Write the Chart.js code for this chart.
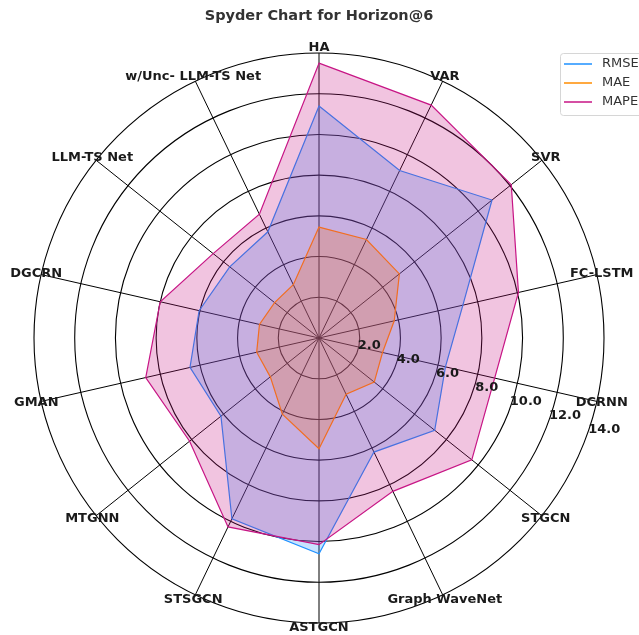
<!DOCTYPE html>
<html>
<head>
<meta charset="utf-8">
<script src="https://cdn.jsdelivr.net/npm/chart.js@4.4.1/dist/chart.umd.min.js"></script>
<style>
  body { margin: 0; background: #fff; }
  #wrap { width: 639px; height: 635px; position: relative; }
</style>
</head>
<body>
<div id="wrap"><canvas id="graphicFirst"></canvas></div>
<script>
// Spyder chart, Horizon@6

const categories = ['HA', 'VAR', 'SVR', 'FC-LSTM', 'DCRNN', 'STGCN', 'Graph WaveNet',
  'ASTGCN', 'STSGCN', 'MTGNN', 'GMAN', 'DGCRN', 'LLM-TS Net', 'w/Unc- LLM-TS Net'];
const rmseValues = [11.4, 9.13, 10.87, 7.25, 6.37, 7.27, 6.22, 10.6, 9.86, 6.16, 6.5, 6.04, 5.61, 5.79];
const maeValues  = [5.45, 5.37, 5.05, 3.79, 3.2, 3.47, 3.07, 5.44, 4.15, 3.06, 3.14, 3.0, 2.79, 2.91];
const mapeValues = [13.5, 12.7, 12.08, 10.05, 8.85, 9.6, 8.36, 10.15, 10.3, 8.13, 8.73, 8.0, 6.65, 6.75];
const tickValues = [2, 4, 6, 8, 10, 12, 14];
const seriesNames = ['RMSE', 'MAE', 'MAPE'];

const FONT = "'DejaVu Sans', sans-serif";

//-----labels drawn by hand (matplotlib style placement)
const labelsPlugin = {
  id: 'labelsPlugin',
  afterDatasetsDraw(chart){
    const scale = chart.scales.r;
    const ctx = chart.ctx;
    ctx.save();
    //---point labels
    ctx.font = 'bold 13px ' + FONT;
    ctx.fillStyle = '#1a1a1a';
    ctx.textAlign = 'center';
    ctx.textBaseline = 'middle';
    const rOut = scale.getDistanceFromCenterForValue(scale.max) + 5;
    categories.forEach((name, i) => {
      const p = scale.getPointPosition(i, rOut);
      ctx.fillText(name, p.x, p.y);
    });
    //---radial tick labels
    tickValues.forEach(v => {
      const d = scale.getDistanceFromCenterForValue(v);
      ctx.fillText(v.toFixed(1), scale.xCenter + 11 + 0.962 * d, scale.yCenter - 6.5 + 0.346 * d);
    });
    ctx.restore();
  },
  afterDraw(chart){
    //---legend box, upper right
    const ctx = chart.ctx;
    ctx.save();
    const x = 560.5, y = 53.5, w = 100, h = 62, rad = 3;
    ctx.beginPath();
    ctx.moveTo(x + rad, y);
    ctx.lineTo(x + w - rad, y);
    ctx.arcTo(x + w, y, x + w, y + rad, rad);
    ctx.lineTo(x + w, y + h - rad);
    ctx.arcTo(x + w, y + h, x + w - rad, y + h, rad);
    ctx.lineTo(x + rad, y + h);
    ctx.arcTo(x, y + h, x, y + h - rad, rad);
    ctx.lineTo(x, y + rad);
    ctx.arcTo(x, y, x + rad, y, rad);
    ctx.closePath();
    ctx.fillStyle = 'rgba(255,255,255,0.8)';
    ctx.fill();
    ctx.strokeStyle = '#d6d6d6';
    ctx.lineWidth = 1;
    ctx.stroke();
    ctx.font = '13px ' + FONT;
    ctx.textAlign = 'left';
    ctx.textBaseline = 'middle';
    chart.data.datasets.forEach((ds, i) => {
      const ly = 64 + i * 19;
      ctx.strokeStyle = ds.borderColor;
      ctx.lineWidth = 1.5;
      ctx.beginPath();
      ctx.moveTo(564, ly);
      ctx.lineTo(592, ly);
      ctx.stroke();
      ctx.fillStyle = '#333';
      ctx.fillText(ds.label, 602, ly);
    });
    ctx.restore();
  }
};

const chartData = {
  labels: categories,
  datasets: [
    { label: seriesNames[0], data: rmseValues, borderColor: 'rgb(30,144,255)',
      backgroundColor: 'rgba(30,144,255,0.25)', order: 2 },
    { label: seriesNames[1], data: maeValues, borderColor: 'rgb(255,140,0)',
      backgroundColor: 'rgba(255,140,0,0.25)', order: 1 },
    { label: seriesNames[2], data: mapeValues, borderColor: 'rgb(199,21,133)',
      backgroundColor: 'rgba(199,21,133,0.25)', order: 0 }
  ]
};
chartData.datasets.forEach(ds => {
  ds.fill = true;
  ds.borderWidth = 1.2;
  ds.pointRadius = 0;
  ds.pointHoverRadius = 0;
});

const ctx = document.getElementById('graphicFirst').getContext('2d');
const chart1 = new Chart(ctx, {
  type: 'radar',
  data: chartData,
  plugins: [labelsPlugin],
  options: {
    responsive: true,
    maintainAspectRatio: false,
    animation: false,
    layout: { padding: { top: 0, bottom: 12, left: 34, right: 35 } },
    elements: { line: { tension: 0 } },
    plugins: {
      legend: { display: false },
      tooltip: { enabled: false },
      title: {
        display: true,
        text: 'Spyder Chart for Horizon@6',
        color: '#333',
        font: { family: FONT, size: 14.5, weight: 'bold', lineHeight: 1.2 },
        padding: { top: 8, bottom: 27.6 }
      }
    },
    scales: {
      r: {
        min: 0,
        max: 14,
        ticks: { display: false, stepSize: 2 },
        grid: { circular: true, color: '#000', lineWidth: 1.1 },
        angleLines: { color: '#000', lineWidth: 1 },
        pointLabels: { display: false }
      }
    }
  }
});
</script>
</body>
</html>
